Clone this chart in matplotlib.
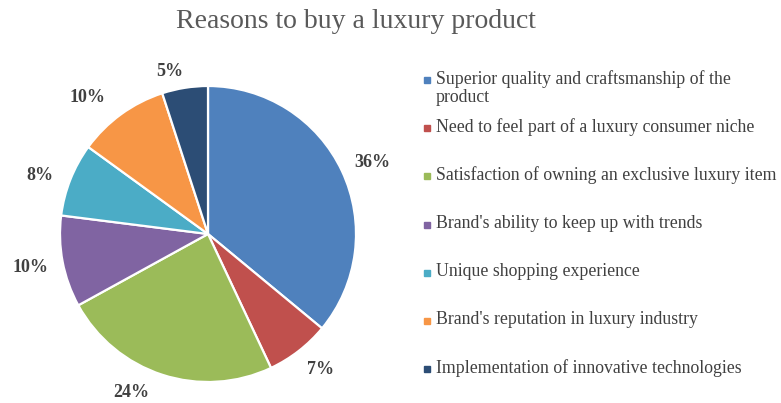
import numpy as np
import matplotlib.pyplot as plt
from matplotlib.patches import Rectangle

plt.rcParams['font.family'] = ['Liberation Serif', 'DejaVu Serif']

reasons = [
    "Superior quality and craftsmanship of the\nproduct",
    "Need to feel part of a luxury consumer niche",
    "Satisfaction of owning an exclusive luxury item",
    "Brand's ability to keep up with trends",
    "Unique shopping experience",
    "Brand's reputation in luxury industry",
    "Implementation of innovative technologies",
]
shares = [36, 7, 24, 10, 8, 10, 5]
colors = ["#4F81BD", "#C0504D", "#9BBB59", "#8064A2", "#4BACC6", "#F79646", "#2C4D75"]

# label placement: distance from centre (in radii) and angle nudge (deg)
label_dist = [1.21, 1.19, 1.19, 1.22, 1.20, 1.23, 1.13]
label_nudge = [-1.8, 1.9, -7.7, 0, 2.5, 5.4, 4.1]

W, H = 781, 403
fig = plt.figure(figsize=(W / 100, H / 100), dpi=100)

# pie centred at (208, 234) px with radius 148 px
cx, cy, r = 208, 234, 148
ax = fig.add_axes([(cx - r) / W, (H - cy - r) / H, 2 * r / W, 2 * r / H])
wedges, texts = ax.pie(shares, colors=colors, startangle=90, counterclock=False,
                       labels=[f"{v}%" for v in shares], labeldistance=1.2,
                       wedgeprops=dict(edgecolor="white", linewidth=1.6))
for w, t, d, n in zip(wedges, texts, label_dist, label_nudge):
    ang = np.deg2rad((w.theta1 + w.theta2) / 2 + n)
    t.set_position((d * np.cos(ang), d * np.sin(ang)))
    t.set_fontsize(13)
    t.set_fontweight("bold")
    t.set_color("#404040")
    t.set_ha("center")
    t.set_va("center")
    t.set_clip_on(False)
ax.set_xlim(-1, 1)
ax.set_ylim(-1, 1)
ax.set_aspect("equal")

fig.text(356 / W, 1 - 22 / H, "Reasons to buy a luxury product",
         ha="center", va="center", fontsize=20, color="#595959")

# legend drawn by hand: square marker + text
y0, step = 80, 48.2
for i, (lab, col) in enumerate(zip(reasons, colors)):
    y = y0 + i * step
    fig.patches.append(Rectangle((424 / W, 1 - (y + 3) / H), 6 / W, 6 / H,
                                 transform=fig.transFigure, color=col))
    fig.text(436 / W, 1 - (y - 10) / H, lab, ha="left", va="top",
             fontsize=12.8, color="#404040", linespacing=1.1)

fig.savefig("out.png", dpi=100)
